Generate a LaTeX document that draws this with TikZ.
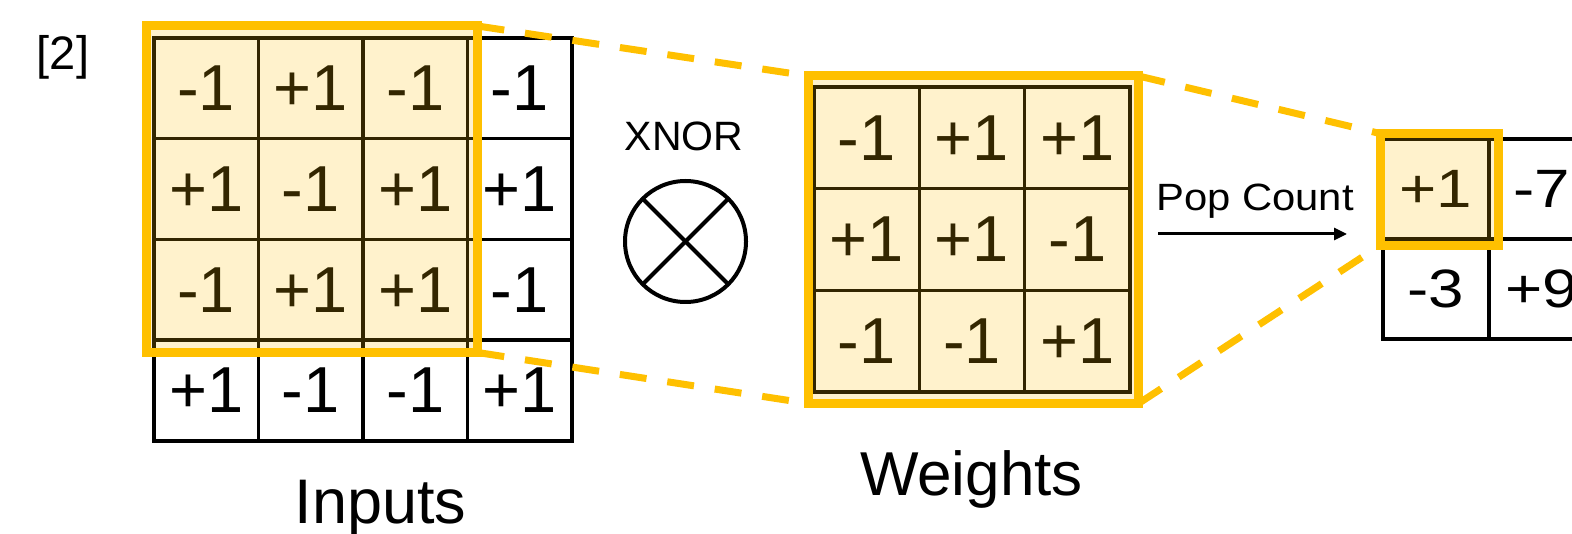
\documentclass[tikz,border=0pt]{standalone}
\usepackage{graphicx}
\usepackage{fontspec}
\setmainfont{Liberation Sans}
\usetikzlibrary{arrows.meta}
\definecolor{gold}{HTML}{FFC000}
\begin{document}
\begin{tikzpicture}[x=1pt,y=-1pt,
  cell/.style={draw=black, line width=3.5pt, inner sep=0pt, outer sep=0pt, text=black},
  bigdigits/.style={font=\fontsize{65}{65}\selectfont},
  smalldigits/.style={font=\fontsize{54}{54}\selectfont},
  frame/.style={draw=gold, line width=9pt, fill=gold, fill opacity=0.2, draw opacity=1,
                inner sep=0pt, outer sep=0pt},
  link/.style={draw=gold, line width=7pt, dash pattern=on 27pt off 21pt},
  label/.style={anchor=base, inner sep=0pt, text=black}]
\useasboundingbox (0,0) rectangle (1572,534);
\clip (0,0) rectangle (1572,534);
\fill[white] (0,0) rectangle (1572,534);

% reference tag
\node[label, font=\fontsize{47}{47}\selectfont] (tag) at (63,70) {[2]};

% 4x4 input grid
\foreach \v [count=\i from 0] in {-1,+1,-1,-1,+1,-1,+1,+1,-1,+1,+1,-1,+1,-1,-1,+1}{
  \pgfmathtruncatemacro\rr{div(\i,4)}
  \pgfmathtruncatemacro\cc{mod(\i,4)}
  \node[cell, bigdigits, minimum width=104.5pt, minimum height=100.75pt]
    (in-\rr-\cc) at ({154+104.5*(\cc+0.5)}, {38+100.75*(\rr+0.5)}) {\v};
}

% 3x3 weight grid
\foreach \v [count=\i from 0] in {-1,+1,+1,+1,+1,-1,-1,-1,+1}{
  \pgfmathtruncatemacro\rr{div(\i,3)}
  \pgfmathtruncatemacro\cc{mod(\i,3)}
  \node[cell, bigdigits, minimum width=105.33pt, minimum height=101.67pt]
    (w-\rr-\cc) at ({814+105.33*(\cc+0.5)}, {87+101.67*(\rr+0.5)}) {\v};
}

% output grid (digits slightly widened)
\foreach \v [count=\i from 0] in {+1,-7,-3,+9}{
  \pgfmathtruncatemacro\rr{div(\i,2)}
  \pgfmathtruncatemacro\cc{mod(\i,2)}
  \node[cell, smalldigits, minimum width=106pt, minimum height=100pt]
    (out-\rr-\cc) at ({1383+106*(\cc+0.5)}, {139+100*(\rr+0.5)}) {\scalebox{1.18}[1]{\v}};
}

% highlighted windows
\node[frame, minimum width=331.5pt, minimum height=326.5pt] (fin) at (311.75,189.25) {};
\node[frame, minimum width=330pt, minimum height=327.5pt] (fw) at (973.5,239.75) {};
\node[frame, minimum width=118pt, minimum height=112pt] (fout) at (1439,189.5) {};

% dashed projections between windows
\draw[link] (fin.north east) -- (fw.north west);
\draw[link] (fin.south east) -- (fw.south west);
\draw[link] (fw.north east) -- (fout.north west);
\draw[link] (fw.south east) -- (fout.south west);

% XNOR operator
\node[label, font=\fontsize{41}{41}\selectfont] (xnorlabel) at (684,151) {XNOR};
\node[draw=black, circle, line width=4pt, minimum size=121pt, inner sep=0pt, outer sep=0pt]
  (xnor) at (685.5,241.5) {};
\draw[line width=4pt] (xnor.45) -- (xnor.225);
\draw[line width=4pt] (xnor.135) -- (xnor.-45);

% pop count arrow
\node[label, font=\fontsize{38}{38}\selectfont] (poplabel) at (1255,211) {\scalebox{1.1}[1]{Pop Count}};
\coordinate (popA) at (1158,234);
\coordinate (popB) at (1347,234);
\draw[line width=3pt, -{Triangle[length=13pt,width=12pt]}] (popA) -- (popB);

% captions
\node[label, font=\fontsize{63}{63}\selectfont] (inputs) at (380.5,523) {Inputs};
\node[label, font=\fontsize{62}{62}\selectfont] (weights) at (971.5,495) {Weights};
\end{tikzpicture}
\end{document}
